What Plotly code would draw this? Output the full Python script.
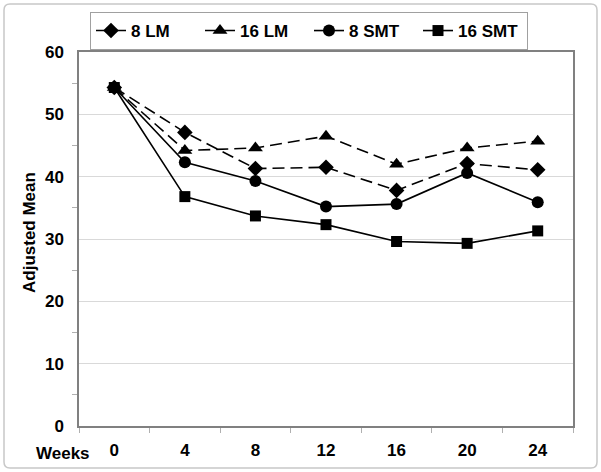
import plotly.graph_objects as go

weeks = ["0", "4", "8", "12", "16", "20", "24"]
lm8 = [54.3, 47.1, 41.3, 41.5, 37.8, 42.1, 41.1]
lm16 = [54.3, 44.2, 44.6, 46.5, 42.0, 44.6, 45.7]
smt8 = [54.3, 42.3, 39.3, 35.2, 35.6, 40.6, 35.9]
smt16 = [54.3, 36.8, 33.7, 32.3, 29.6, 29.3, 31.3]

series = [
    ("8 LM", lm8, "diamond", "12px,6px", 12),
    ("16 LM", lm16, "triangle-up", "12px,6px", 13),
    ("8 SMT", smt8, "circle", "solid", 12),
    ("16 SMT", smt16, "square", "solid", 11),
]

fig = go.Figure()
for name, vals, sym, dash, size in series:
    fig.add_trace(go.Scatter(
        x=weeks, y=vals, name=name, mode="lines+markers",
        line=dict(color="black", width=1.6, dash=dash),
        marker=dict(symbol=sym, size=size, color="black"),
    ))

font = "Liberation Sans, Arial, sans-serif"
L, R, T, B = 79, 573, 52, 426
pw, ph = R - L, B - T
fig.update_layout(
    width=601, height=472,
    margin=dict(l=L, r=601 - R, t=T, b=472 - B, autoexpand=False),
    paper_bgcolor="white", plot_bgcolor="white",
    font=dict(family=font, size=17, color="black"),
    showlegend=True,
    legend=dict(
        orientation="h", xref="container", yref="container",
        x=(88 + 530) / 2 / 601, xanchor="center",
        y=1 - 12 / 472, yanchor="top",
        bordercolor="#a0a0a0", borderwidth=1,
        font=dict(family=font, size=17, color="black", weight="bold"),
        tracegroupgap=0, entrywidth=64, entrywidthmode="pixels",
    ),
    xaxis=dict(
        type="category", range=[-0.5, 6.5], automargin=False,
        showline=True, linecolor="#808080", linewidth=1.5, mirror=True,
        showgrid=False, ticks="outside", tickcolor="#b0b0b0", ticklen=5,
        tickson="boundaries", ticklabelstandoff=8,
        tickfont=dict(family=font, size=17, weight="bold"),
    ),
    yaxis=dict(
        range=[0, 60], dtick=10, automargin=False,
        showline=True, linecolor="#808080", linewidth=1.5, mirror=True,
        showgrid=True, gridcolor="#d9d9d9", gridwidth=1,
        ticks="", zeroline=False, ticklabelstandoff=10,
        minor=dict(dtick=5, ticks="outside", ticklen=5, tickcolor="#b0b0b0", showgrid=False),
        tickfont=dict(family=font, size=17, weight="bold"),
    ),
)

fig.add_annotation(
    text="<b>Adjusted Mean</b>", textangle=-90, xref="paper", yref="paper",
    x=(29 - L) / pw, y=(B - 233) / ph, xanchor="center", yanchor="middle",
    showarrow=False, font=dict(family=font, size=17, color="black"),
)

fig.add_annotation(
    text="<b>Weeks</b>", xref="paper", yref="paper", x=(92 - L) / pw, y=(B - 453) / ph,
    xanchor="right", yanchor="middle", showarrow=False,
    font=dict(family=font, size=17, color="black"),
)

# rounded outer frame (paper coordinates)
def px(v):
    return (v - L) / pw

def py(v):
    return (B - v) / ph

r = 6
left, right, top, bottom = 4, 597, 4, 468
path = (
    f"M {px(left + r)} {py(top)} L {px(right - r)} {py(top)} "
    f"Q {px(right)} {py(top)} {px(right)} {py(top + r)} "
    f"L {px(right)} {py(bottom - r)} Q {px(right)} {py(bottom)} {px(right - r)} {py(bottom)} "
    f"L {px(left + r)} {py(bottom)} Q {px(left)} {py(bottom)} {px(left)} {py(bottom - r)} "
    f"L {px(left)} {py(top + r)} Q {px(left)} {py(top)} {px(left + r)} {py(top)} Z"
)
fig.add_shape(type="path", xref="paper", yref="paper", path=path,
              line=dict(color="#c8c8c8", width=1.5), layer="below")

fig.write_html("out.html", post_script="document.body.style.margin='0';",
               config={"displayModeBar": False})
